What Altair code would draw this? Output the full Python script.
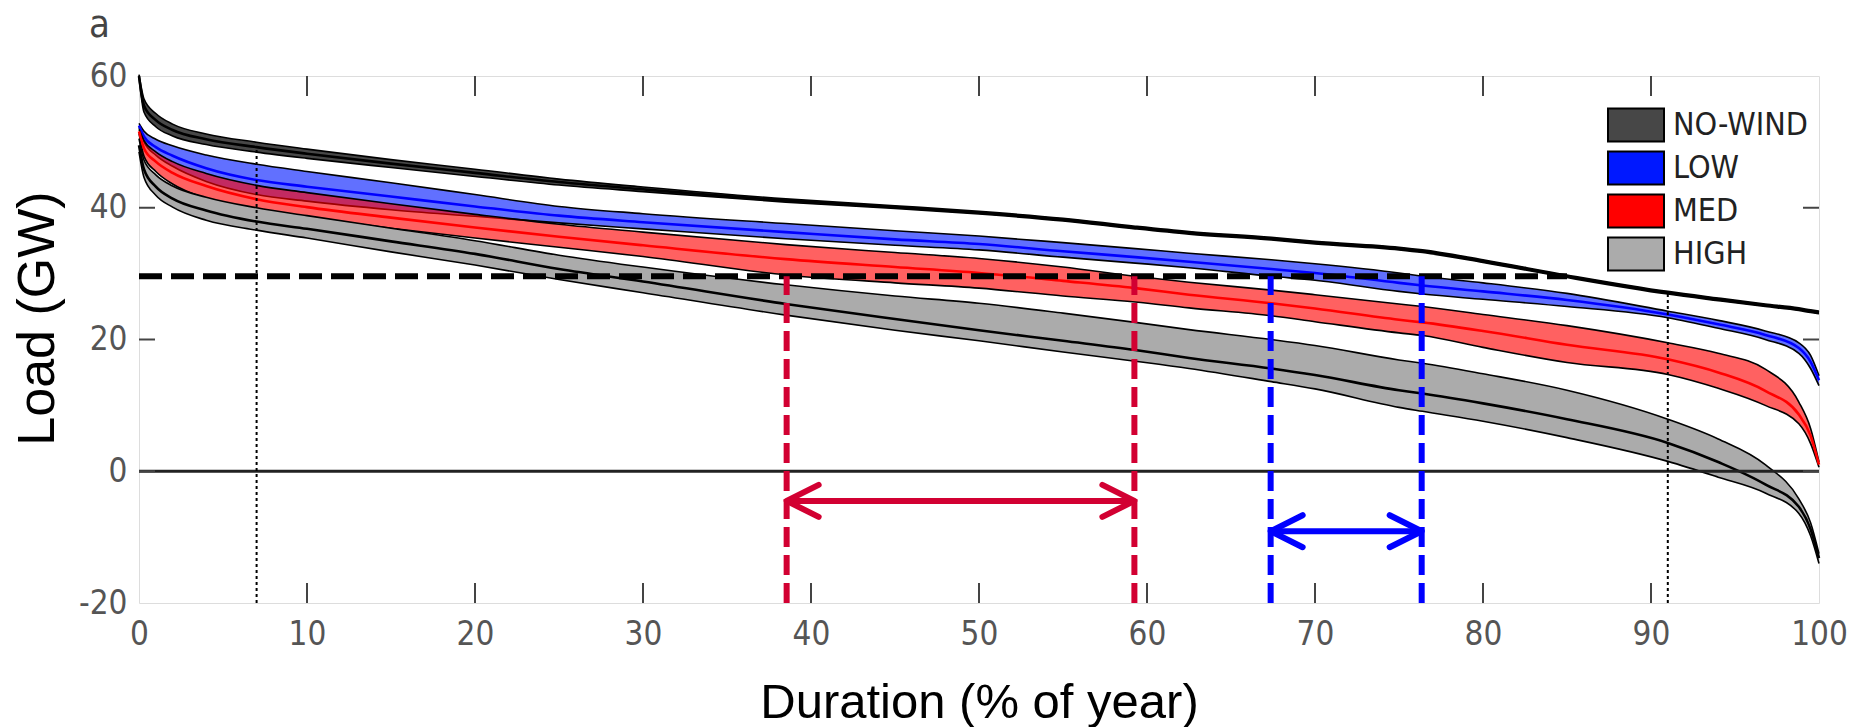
import altair as alt
import pandas as pd

# Load-duration curves: per scenario, the band (lo/hi) and its central curve (mid), in GW
duration = [0, 0.3, 1, 2, 4, 7, 10, 15, 20, 25, 30, 38.5, 45, 50, 55, 59.3, 62.5,
            67.4, 70, 75, 76.4, 80, 85, 91, 94, 96.8, 98.8, 99.5, 100]

nowind_hi = [60.2, 56.5, 54.3, 52.7, 51.2, 49.95, 48.9, 47.3, 45.85, 44.35, 43.15, 41.35, 40.3, 39.45,
             38.4, 37.2, 36.4, 35.5, 34.9, 34.0, 33.6, 32.1, 29.8, 27.3, 26.3, 25.4, 24.8, 24.5, 24.3]
nowind_mid = [60.0, 55.5, 53.3, 51.8, 50.4, 49.2, 48.2, 46.7, 45.3, 43.9, 42.8, 41.1, 40.1, 39.25,
              38.2, 37.0, 36.2, 35.3, 34.7, 33.8, 33.4, 31.9, 29.6, 27.1, 26.1, 25.2, 24.6, 24.3, 24.1]
nowind_lo = [59.8, 54.5, 52.3, 50.9, 49.6, 48.45, 47.5, 46.1, 44.75, 43.45, 42.45, 40.85, 39.9, 39.05,
             38.0, 36.8, 36.0, 35.1, 34.5, 33.6, 33.2, 31.7, 29.4, 26.9, 25.9, 25.0, 24.4, 24.1, 23.9]

low_hi = [52.8, 51.6, 50.4, 49.4, 48.0, 46.6, 45.5, 43.8, 42.0, 40.2, 39.1, 37.6, 36.5, 35.7,
          34.7, 33.8, 33.1, 32.1, 31.5, 30.1, 29.6, 28.6, 27.0, 24.3, 22.9, 21.3, 19.5, 17.6, 14.5]
low_mid = [52.5, 50.8, 49.2, 47.9, 46.0, 44.2, 43.2, 41.7, 40.2, 38.8, 37.8, 36.3, 35.2, 34.5,
           33.4, 32.5, 31.8, 30.7, 30.1, 28.6, 28.2, 27.3, 26.0, 23.8, 22.3, 20.7, 18.7, 16.6, 13.8]
low_lo = [52.2, 50.0, 48.0, 46.3, 44.0, 42.0, 41.0, 39.7, 38.7, 37.7, 36.8, 35.3, 34.3, 33.6,
          32.5, 31.6, 30.9, 29.6, 29.0, 27.3, 26.9, 26.1, 25.0, 23.3, 21.7, 20.0, 17.9, 15.6, 13.0]

med_hi = [51.9, 50.2, 48.5, 47.0, 45.2, 43.4, 42.3, 40.6, 39.0, 37.5, 36.3, 34.4, 33.2, 32.3,
          31.0, 29.6, 28.7, 27.5, 26.8, 25.4, 25.0, 23.8, 22.1, 19.5, 17.9, 15.5, 10.5, 6.5, 1.4]
med_mid = [51.6, 49.0, 47.0, 45.3, 43.3, 41.3, 40.1, 38.5, 37.0, 35.6, 34.3, 32.2, 31.0, 30.1,
           28.9, 27.8, 26.8, 25.5, 24.7, 23.0, 22.6, 21.3, 19.2, 17.0, 15.0, 12.2, 8.6, 5.4, 1.0]
med_lo = [51.3, 47.8, 45.5, 43.6, 41.4, 39.6, 38.5, 36.9, 35.4, 34.0, 32.6, 29.8, 28.6, 27.8,
          26.6, 25.7, 24.8, 23.6, 22.7, 21.0, 20.6, 18.8, 16.5, 14.7, 12.6, 10.0, 7.2, 4.2, 0.6]

high_hi = [50.5, 47.2, 45.0, 43.3, 41.6, 40.0, 38.8, 36.9, 35.0, 32.8, 31.0, 28.3, 26.6, 25.5,
           24.0, 22.6, 21.5, 20.0, 19.1, 16.9, 16.4, 14.8, 12.3, 7.9, 4.9, 1.0, -4.2, -7.8, -12.5]
high_mid = [49.5, 45.8, 43.2, 41.4, 39.6, 37.9, 36.8, 34.9, 33.0, 30.7, 28.8, 25.4, 23.1, 21.4,
            19.8, 18.4, 17.2, 15.6, 14.6, 12.3, 11.8, 10.3, 7.9, 4.3, 1.4, -2.0, -5.4, -8.8, -13.2]
high_lo = [48.5, 44.6, 41.9, 40.1, 38.1, 36.6, 35.4, 33.3, 31.3, 29.1, 27.1, 23.7, 21.4, 19.8,
           18.1, 16.7, 15.6, 13.6, 12.5, 9.7, 9.1, 7.6, 5.1, 1.5, -0.9, -3.3, -6.4, -9.8, -14.0]

scenarios = ["NO-WIND", "LOW", "MED", "HIGH"]
legend_colors = ["#474747", "#0018ff", "#ff0000", "#ababab"]
band_opacity = [1.0, 0.62, 0.62, 1.0]
center_colors = ["#000000", "#0000ff", "#ff0000", "#000000"]
bands = {
    "NO-WIND": (nowind_lo, nowind_mid, nowind_hi),
    "LOW": (low_lo, low_mid, low_hi),
    "MED": (med_lo, med_mid, med_hi),
    "HIGH": (high_lo, high_mid, high_hi),
}

# Reference levels and annotations
threshold = 29.6          # horizontal dashed level (GW)
threshold_end = 85        # where the dashed level meets the NO-WIND curve
dotted_x = [7, 91]
dotted_top = [49.2, 27.1]
med_span = [38.55, 59.25]
med_arrow_y = -4.5
low_span = [67.36, 76.35]
low_arrow_y = -9.1

x_ticks = [0, 10, 20, 30, 40, 50, 60, 70, 80, 90, 100]
y_ticks = [-20, 0, 20, 40, 60]
inner_x_ticks = [10, 20, 30, 40, 50, 60, 70, 80, 90]
inner_y_ticks = [0, 20, 40]

W, H = 1680, 527
LABEL_FONT = "DejaVu Sans Condensed, DejaVu Sans, sans-serif"
TITLE_FONT = "Liberation Sans, Arial, sans-serif"
RED = "#d20032"
BLUE = "#0000ff"

rows = []
for name in scenarios:
    lo, mid, hi = bands[name]
    for d, a, m, b in zip(duration, lo, mid, hi):
        rows.append({"dur": d, "lo": a, "mid": m, "hi": b, "scenario": name})
df = pd.DataFrame(rows)

xscale = alt.Scale(domain=[0, 100], nice=False, zero=False)
yscale = alt.Scale(domain=[-20, 60], nice=False, zero=False)

x_axis = alt.Axis(values=x_ticks, ticks=False, domain=False, grid=False,
                  labelFont=LABEL_FONT, labelFontSize=33, labelColor="#555555",
                  labelPadding=15, labelFlush=False, labelOverlap=False,
                  title="Duration (% of year)", titleFont=TITLE_FONT,
                  titleFontSize=49, titleFontWeight="normal", titleColor="#000000",
                  titleX=840, titleY=114, titleAlign="center", titleBaseline="alphabetic",
                  titleAnchor="start")
y_axis = alt.Axis(values=y_ticks, ticks=False, domain=False, grid=False,
                  labelFont=LABEL_FONT, labelFontSize=33, labelColor="#555555",
                  labelPadding=12, labelFlush=False, labelOverlap=False,
                  labelExpr="'' + datum.value",
                  title="Load (GW)", titleFont=TITLE_FONT,
                  titleFontSize=52, titleFontWeight="normal", titleColor="#000000",
                  titleAngle=270, titleX=-86, titleY=242, titleAlign="center",
                  titleBaseline="alphabetic", titleAnchor="start")

# wide rectangular swatches: the path spans +-2 units horizontally, +-1.18 vertically
legend = alt.Legend(title=None, orient="none", legendX=1481, legendY=33,
                    symbolType="M-2,-1.18H2V1.18H-2Z", symbolSize=784,
                    symbolStrokeColor="#000000", symbolStrokeWidth=2, symbolOpacity=1,
                    labelFont=LABEL_FONT, labelFontSize=32, labelColor="#222222",
                    labelOffset=21, rowPadding=1)
color = alt.Color("scenario:N", scale=alt.Scale(domain=scenarios, range=legend_colors),
                  legend=legend)

X = alt.X("dur:Q", scale=xscale, axis=x_axis)

layers = []
for name, op, cc in zip(scenarios, band_opacity, center_colors):
    base = alt.Chart(df).transform_filter(alt.datum.scenario == name)
    layers.append(base.mark_area(interpolate="monotone", fillOpacity=op).encode(
        x=X, y=alt.Y("lo:Q", scale=yscale, axis=y_axis), y2="hi:Q", color=color))
    for edge in ["lo", "hi"]:
        layers.append(base.mark_line(interpolate="monotone", color="#000000", strokeWidth=1.6)
                      .encode(x=X, y=alt.Y(f"{edge}:Q", scale=yscale)))
    layers.append(base.mark_line(interpolate="monotone", color=cc, strokeWidth=2.6)
                  .encode(x=X, y=alt.Y("mid:Q", scale=yscale)))

# zero line
zero = alt.Chart(pd.DataFrame({"y": [0]})).mark_rule(color="#222222", strokeWidth=3).encode(
    y=alt.Y("y:Q", scale=yscale))

# horizontal dashed threshold
thr = alt.Chart(pd.DataFrame({"x": [0], "x2": [threshold_end], "y": [threshold]})).mark_rule(
    color="#000000", strokeWidth=6, strokeDash=[23, 9]).encode(
    x=alt.X("x:Q", scale=xscale), x2="x2:Q", y=alt.Y("y:Q", scale=yscale))

# dotted verticals up to the NO-WIND curve
dotted = alt.Chart(pd.DataFrame({"x": dotted_x, "top": dotted_top, "bottom": [-20, -20]})).mark_rule(
    color="#000000", strokeWidth=2, strokeDash=[3, 3]).encode(
    x=alt.X("x:Q", scale=xscale), y=alt.Y("bottom:Q", scale=yscale), y2="top:Q")

def span_marks(span, arrow_y, col):
    vdf = pd.DataFrame({"x": span, "top": [threshold] * 2, "bottom": [-20] * 2})
    vert = alt.Chart(vdf).mark_rule(color=col, strokeWidth=6, strokeDash=[20, 8]).encode(
        x=alt.X("x:Q", scale=xscale), y=alt.Y("bottom:Q", scale=yscale), y2="top:Q")
    shaft = alt.Chart(pd.DataFrame({"x": [span[0]], "x2": [span[1]], "y": [arrow_y]})).mark_rule(
        color=col, strokeWidth=6).encode(
        x=alt.X("x:Q", scale=xscale), x2="x2:Q", y=alt.Y("y:Q", scale=yscale))
    left = alt.Chart(pd.DataFrame({"x": [span[0]], "y": [arrow_y]})).mark_point(
        shape="M1,-0.5L0,0L1,0.5", size=4096, filled=False, color=col, strokeWidth=6,
        strokeCap="round", strokeJoin="round", opacity=1).encode(
        x=alt.X("x:Q", scale=xscale), y=alt.Y("y:Q", scale=yscale))
    right = alt.Chart(pd.DataFrame({"x": [span[1]], "y": [arrow_y]})).mark_point(
        shape="M-1,-0.5L0,0L-1,0.5", size=4096, filled=False, color=col, strokeWidth=6,
        strokeCap="round", strokeJoin="round", opacity=1).encode(
        x=alt.X("x:Q", scale=xscale), y=alt.Y("y:Q", scale=yscale))
    return [vert, shaft, left, right]

# inward ticks on all four sides
xt = pd.DataFrame({"t": inner_x_ticks})
yt = pd.DataFrame({"t": inner_y_ticks})
tick_style = dict(color="#444444", strokeWidth=2)
ticks = [
    alt.Chart(xt).mark_rule(**tick_style).encode(x=alt.X("t:Q", scale=xscale),
                                                 y=alt.value(H), y2=alt.value(H - 20)),
    alt.Chart(xt).mark_rule(**tick_style).encode(x=alt.X("t:Q", scale=xscale),
                                                 y=alt.value(0), y2=alt.value(20)),
    alt.Chart(yt).mark_rule(**tick_style).encode(y=alt.Y("t:Q", scale=yscale),
                                                 x=alt.value(0), x2=alt.value(16)),
    alt.Chart(yt).mark_rule(**tick_style).encode(y=alt.Y("t:Q", scale=yscale),
                                                 x=alt.value(W), x2=alt.value(W - 16)),
]

panel = alt.Chart(pd.DataFrame({"label": ["a"]})).mark_text(
    align="left", baseline="alphabetic", font=LABEL_FONT, fontSize=38, color="#444444").encode(
    text="label:N", x=alt.value(-50), y=alt.value(-39))

chart = alt.layer(
    *layers, zero, thr, *span_marks(med_span, med_arrow_y, RED),
    *span_marks(low_span, low_arrow_y, BLUE), dotted, *ticks, panel
).properties(
    width=W, height=H,
    autosize=alt.AutoSizeParams(type="none"),
    padding={"left": 139, "top": 76, "right": 31, "bottom": 124},
).configure_view(stroke="#666666", strokeWidth=2).configure(background="white")

chart.save("out.html", embed_options={"renderer": "svg", "actions": False})
